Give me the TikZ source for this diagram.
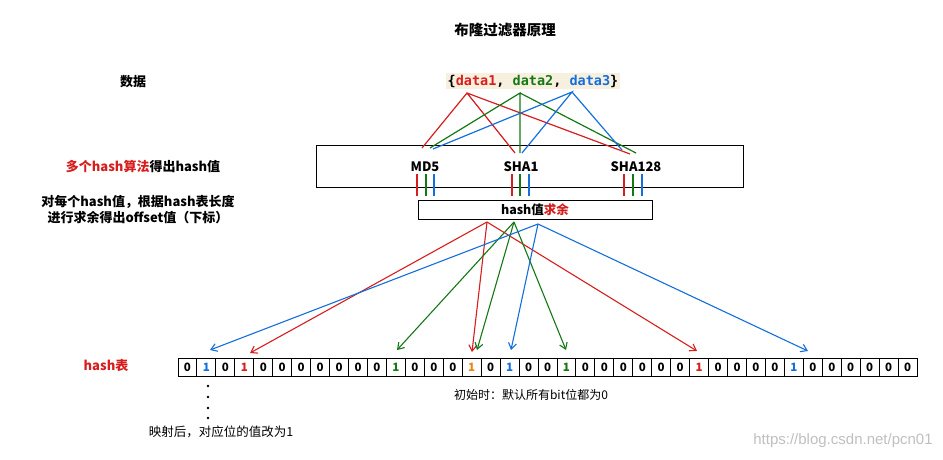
\documentclass[tikz,border=0pt]{standalone}
\usepackage{fontspec}
\setmainfont{Liberation Sans}
\newfontfamily\cjk{Noto Sans CJK SC}
\newfontfamily\mono{DejaVu Sans Mono}
\usetikzlibrary{arrows.meta}
\definecolor{cr}{RGB}{214,30,30}
\definecolor{cg}{RGB}{20,120,20}
\definecolor{cb}{RGB}{20,110,220}
\definecolor{co}{RGB}{235,130,20}
\definecolor{beige}{RGB}{248,240,222}
\begin{document}
\begin{tikzpicture}[x=1pt,y=-1pt,
  lbl/.style={font=\cjk\bfseries\fontsize{13}{16}\selectfont,inner sep=0},
  box/.style={draw,line width=0.8pt},
  ln/.style={line width=1.2pt},
  arr/.style={line width=1.1pt,-{Straight Barb[length=6pt,width=8pt]}},
  cell/.style={draw,line width=1pt,minimum width=18.95pt,minimum height=18pt,inner sep=0,font=\cjk\bfseries\fontsize{11.5}{12}\selectfont}]
\useasboundingbox (0,0) rectangle (943,459);
\node[lbl,font=\cjk\bfseries\fontsize{14.5}{16}\selectfont] (title) at (505,30) {布隆过滤器原理};
\node[lbl] (sj) at (133,82) {数据};
\node[lbl,fill=beige,inner sep=2pt,font=\mono\bfseries\fontsize{13.5}{15}\selectfont] (data) at (533,81) {\{\textcolor{cr}{data1}, \textcolor{cg}{data2}, \textcolor{cb}{data3}\}};
\coordinate (dr) at (467,93); \coordinate (dg) at (520,93); \coordinate (db) at (572,92);
\node[lbl,text=cr] (l1) at (143,167) {多个hash算法\textcolor{black}{得出hash值}};
\node[lbl,align=center] (l2) at (138,210) {对每个hash值，根据hash表长度\\进行求余得出offset值（下标）};
\node[box,minimum width=427pt,minimum height=42pt,inner sep=0] (hbox) at (529.5,166) {};
\node[lbl] (md5) at (425,167) {MD5};
\node[lbl] (sha1) at (521,167) {SHA1};
\node[lbl] (sha128) at (636,167) {SHA128};
\coordinate (mr) at (422,148); \coordinate (mg) at (430,148); \coordinate (mb) at (433,149);
\coordinate (sr) at (515,153); \coordinate (sg) at (520,153); \coordinate (sb) at (522,153);
\coordinate (tr) at (630,154); \coordinate (tg) at (636,153); \coordinate (tb) at (622,150);
\draw[ln,cr] (mr)--(dr)--(sr) (dr)--(tr);
\draw[ln,cg] (mg)--(dg)--(sg) (dg)--(tg);
\draw[ln,cb] (mb)--(db)--(sb) (db)--(tb);
\foreach \x/\c in {417/cr,426/cg,434/cb,512/cr,520/cg,529/cb,624/cr,633/cg,642/cb}
  \draw[ln,\c] (\x,174)--(\x,196);
\node[box,minimum width=234pt,minimum height=19pt,inner sep=0,font=\cjk\bfseries\fontsize{12.5}{14}\selectfont] (mod) at (535,209.5) {hash值\textcolor{cr}{求余}};
\node[lbl,text=cr] (ht) at (106,366) {hash表};
\foreach \i in {0,...,38} {
  \node[cell] (c\i) at ({178+18.95*(\i+0.5)},367) {0};
}
\foreach \i/\c in {1/cb,3/cr,11/cg,15/co,17/cb,20/cg,27/cr,32/cb}
  \node[cell,fill=white,text=\c] at (c\i) {1};
\coordinate (or) at (487,222); \coordinate (og) at (514,222); \coordinate (ob) at (538,224);
\draw[arr,cr] (or)--(250,353); \draw[arr,cr] (or)--(472,352); \draw[arr,cr] (or)--(697,351);
\draw[arr,cg] (og)--(397,350); \draw[arr,cg] (og)--(477,350); \draw[arr,cg] (og)--(566,350);
\draw[arr,cb] (ob)--(210,350); \draw[arr,cb] (ob)--(511,350); \draw[arr,cb] (ob)--(808,351);
\foreach \y in {386,397,408,418} \fill (208,\y) circle (1.4pt);
\node[lbl,font=\cjk\fontsize{12.5}{14}\selectfont] (after) at (221,432) {映射后，对应位的值改为1};
\node[lbl,font=\cjk\fontsize{12}{14}\selectfont] (init) at (531,395) {初始时：默认所有bit位都为0};
\node[lbl,font=\fontsize{15}{17}\selectfont,text=black!25] (wm) at (843,441) {https://blog.csdn.net/pcn01};
\end{tikzpicture}
\end{document}
